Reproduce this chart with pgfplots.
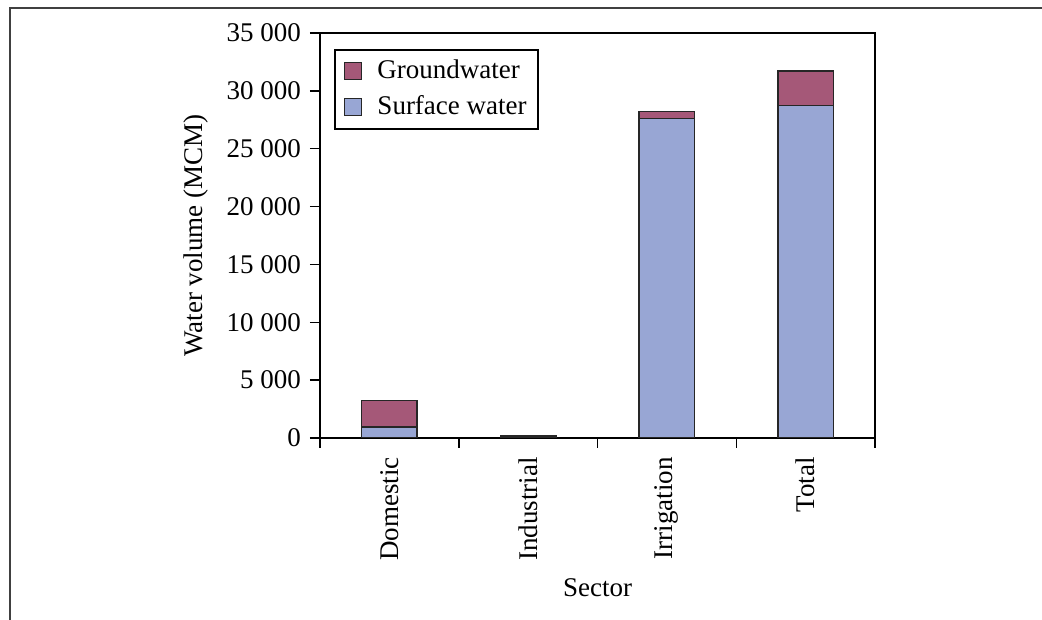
\documentclass[border=0pt]{standalone}
\usepackage{fontspec}
\setmainfont{Liberation Serif}
\usepackage{pgfplots}
\pgfplotsset{compat=1.18}
\definecolor{gwater}{RGB}{165,88,120}
\definecolor{swater}{RGB}{152,166,212}
\begin{document}
\fontsize{27}{32}\selectfont
\begin{tikzpicture}
\path[use as bounding box] (0pt,0pt) rectangle (1042pt,620pt);
\draw[black!75, line width=1.2pt] (10pt,0pt) -- (10pt,612pt) -- (1042pt,612pt);
\begin{axis}[
    at={(320pt,182pt)}, anchor=south west,
    scale only axis, width=555pt, height=405pt,
    ybar stacked, bar width=0.4,
    xmin=-0.5, xmax=3.5,
    ymin=0, ymax=35000,
    ytick={0,5000,...,35000},
    xtick={-0.5,0.5,1.5,2.5,3.5},
    x tick label as interval,
    xticklabels={Domestic,Industrial,Irrigation,Total},
    xticklabel style={rotate=90, anchor=east, font=\fontsize{27}{32}\selectfont},
    yticklabel style={font=\fontsize{27}{32}\selectfont},
    scaled y ticks=false,
    /pgf/number format/.cd, 1000 sep={\ }, assume math mode=true, /pgfplots/.cd,
    tick align=outside, major tick length=10pt,
    xtick pos=bottom, ytick pos=left,
    tick style={black, line width=1.5pt},
    axis line style={black, line width=2.5pt},
    xlabel={Sector}, ylabel={Water volume (MCM)},
    label style={font=\fontsize{27}{32}\selectfont},
    legend style={at={(0.0252,0.96)}, anchor=north west, draw=black, line width=1.8pt,
        font=\fontsize{27}{32}\selectfont, row sep=9pt, inner xsep=9pt, inner ysep=8pt},
    legend cell align=left,
    reverse legend,
    legend image code/.code={
        \draw[#1, line width=1.2pt] (0pt,-8pt) rectangle (17pt,9pt);
        \path[draw=none, fill=none] (0pt,0pt) -- (31pt,0pt);},
]
\addplot[fill=swater, draw=black!85, line width=1.5pt]
    coordinates {(0,950) (1,180) (2,27600) (3,28750)};
\addplot[fill=gwater, draw=black!85, line width=1.5pt]
    coordinates {(0,2300) (1,50) (2,600) (3,2950)};
\legend{Surface water, Groundwater}
\end{axis}
\end{tikzpicture}
\end{document}
